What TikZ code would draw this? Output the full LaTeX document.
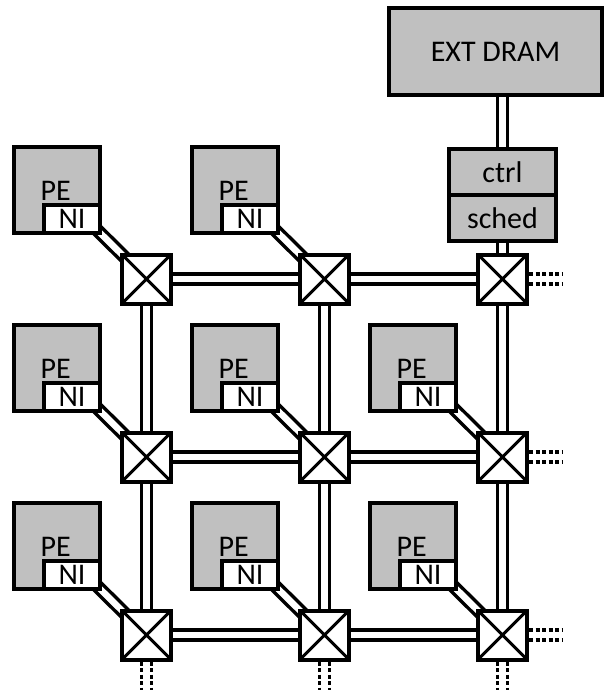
\documentclass[tikz,border=0pt]{standalone}
\usepackage{fontspec}
\setmainfont{Carlito}
\usetikzlibrary{calc,backgrounds}
\definecolor{boxgray}{RGB}{192,192,192}
\begin{document}
\begin{tikzpicture}[x=1pt,y=-1pt,
  every node/.style={font=\fontsize{30}{30}\selectfont, inner sep=0pt},
  blk/.style={draw, line width=4pt, fill=boxgray, minimum width=86pt, minimum height=86pt},
  nibox/.style={draw, line width=4pt, fill=white, minimum width=56pt, minimum height=28pt, anchor=south east},
  router/.style={draw, line width=4pt, fill=white, minimum size=49pt,
    path picture={\draw[line width=3pt]
      (path picture bounding box.north west) -- (path picture bounding box.south east)
      (path picture bounding box.north east) -- (path picture bounding box.south west);}},
  link/.style={line width=3.5pt, double=white, double distance=6.5pt},
  stub/.style={line width=3.5pt, dash pattern=on 4pt off 2.5pt}]
\useasboundingbox (0,0) rectangle (608,690);

% routers
\foreach \i in {1,2,3} {
  \foreach \j in {1,2,3} {
    \node[router] (r\i\j) at ({146.5+178*(\i-1)},{279+178*(\j-1)}) {};
  }
}

% processing elements
\foreach \i/\j in {1/1,2/1,1/2,2/2,3/2,1/3,2/3,3/3} {
  \node[blk] (pe\i\j) at ({57+178*(\i-1)},{190+178*(\j-1)}) {};
  \node[nibox] (ni\i\j) at (pe\i\j.south east) {NI};
  \node[anchor=base west] (pt\i\j) at ($(ni\i\j.north west)+(-1.5,-3)$) {PE};
}

% memory side
\node[draw, line width=4pt, fill=boxgray, minimum width=213pt, minimum height=87pt] (dram) at (495.5,51.5) {EXT DRAM};
\node[draw, line width=4pt, fill=boxgray, minimum width=107pt, minimum height=46.5pt] (ctrl) at (502.5,171.75) {ctrl};
\node[draw, line width=4pt, fill=boxgray, minimum width=107pt, minimum height=45.5pt] (sched) at (502.5,217.75) {sched};

% stub end points
\foreach \j in {1,2,3} {
  \coordinate (e\j) at ($(r3\j.east)+(34,0)$);
}
\foreach \i in {1,2,3} {
  \coordinate (b\i) at (r\i3.south |- 0,692);
}

\begin{scope}[on background layer]
  \foreach \j in {1,2,3} {
    \draw[link] (r1\j) -- (r2\j);
    \draw[link] (r2\j) -- (r3\j);
  }
  \foreach \i in {1,2,3} {
    \draw[link] (r\i1) -- (r\i2);
    \draw[link] (r\i2) -- (r\i3);
  }
  \foreach \i/\j in {1/1,2/1,1/2,2/2,3/2,1/3,2/3,3/3} {
    \draw[link] ($(ni\i\j.south east)+(-10,-10)$) -- ($(r\i\j.north west)+(10,10)$);
  }
  \draw[link] (ctrl.north) -- (ctrl.north |- dram.south);
  \draw[link] (sched.south) -- (r31.north);
\end{scope}

% dotted stubs
\foreach \j in {1,2,3} {
  \draw[stub] ($(r3\j.east)+(0,-5)$) -- ($(e\j)+(0,-5)$);
  \draw[stub] ($(r3\j.east)+(0,5)$) -- ($(e\j)+(0,5)$);
}
\foreach \i in {1,2,3} {
  \draw[stub] ($(r\i3.south)+(-5,0)$) -- ($(b\i)+(-5,0)$);
  \draw[stub] ($(r\i3.south)+(5,0)$) -- ($(b\i)+(5,0)$);
}
\end{tikzpicture}
\end{document}
